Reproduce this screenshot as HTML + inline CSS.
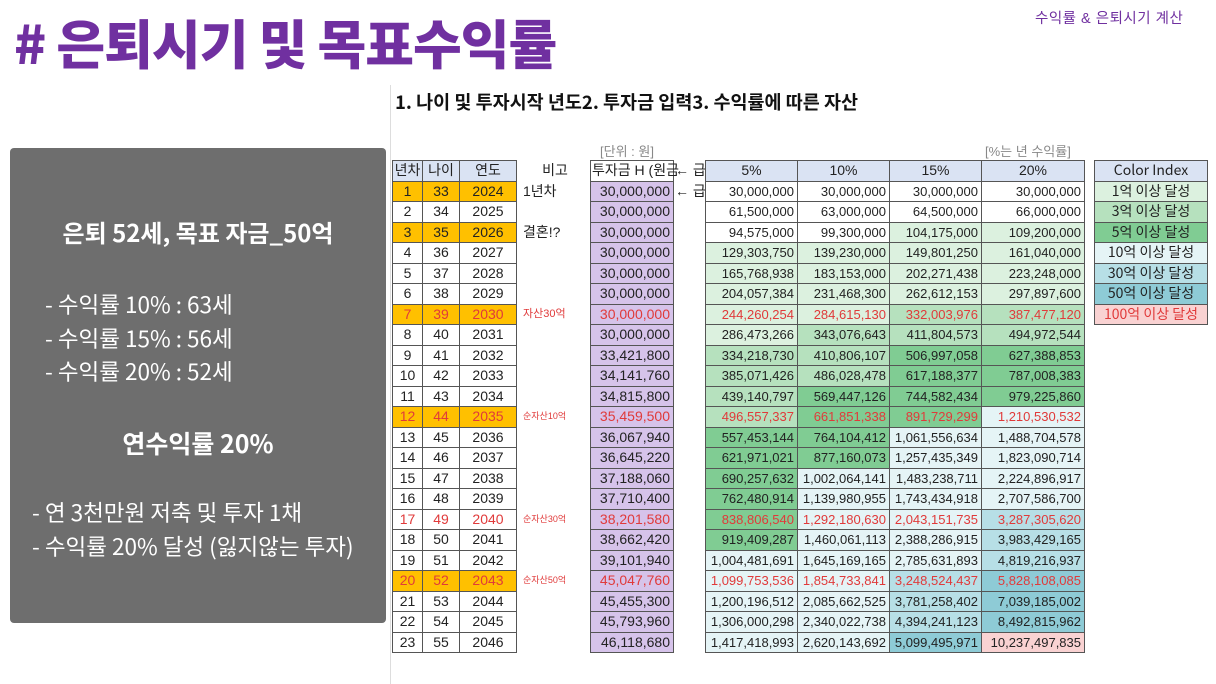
<!DOCTYPE html>
<html><head><meta charset="utf-8"><style>
body{margin:0;width:1216px;height:684px;background:#fff;position:relative;overflow:hidden;font-family:"Liberation Sans","Noto Sans CJK KR",sans-serif;}
.a{position:absolute;white-space:nowrap;}
#title{left:14px;top:9px;font-size:53px;font-weight:900;color:#7030a0;font-family:"Noto Sans CJK KR",sans-serif;letter-spacing:-1px;line-height:66px;}
#tr{left:1035px;top:7px;font-size:14.5px;color:#7030a0;letter-spacing:0.5px;}
#sub{left:395px;top:89px;font-size:18.5px;font-weight:bold;color:#111;font-family:"Noto Sans CJK KR",sans-serif;}
#vl{left:390px;top:85px;width:1px;height:599px;background:#ddd;}
#panel{left:10px;top:148px;width:376px;height:475px;background:#6e6e6e;border-radius:4px;color:#fff;font-family:"Noto Sans CJK KR",sans-serif;}
#panel div{position:absolute;white-space:nowrap;font-size:22.5px;}
.unit{font-size:13px;color:#888;top:141px;}
table{position:absolute;border-collapse:collapse;table-layout:fixed;font-size:13px;font-family:"Liberation Sans","Noto Sans CJK KR",sans-serif;}
td{border:1px solid #555;height:19.5px;padding:0 3px;line-height:19px;color:#222;overflow:hidden;white-space:nowrap;}
#t td:nth-child(1),#t td:nth-child(2),#t td:nth-child(3){text-align:center;padding:0;font-size:14px;}
#t td:nth-child(5),#t td:nth-child(n+7){text-align:right;}
td.nb{border-top:none;border-bottom:none;text-align:left!important;padding-left:6px;font-size:14px;}
tr.h td{background:#dae3f3;text-align:center!important;font-size:14px;}
tr.h td.nb{background:#fff;text-align:center!important;}
td.pu{background:#d6c3ea;font-size:14px;}
tr.y td:nth-child(-n+3){background:#ffc000;}
tr.r td{color:#e03a3a;}
.r td.nb{font-size:11px;}
.sm{font-size:9px!important;}
.g1{background:#dcf1df}.g2{background:#b6e1be}.g3{background:#80cc93}
.c1{background:#e5f4f6}.c2{background:#b7dfe6}.c3{background:#8ecbd6}.p{background:#f9d2d2}
#ci td{text-align:center;font-family:"Noto Sans CJK KR",sans-serif;font-size:14px;}
</style></head><body>
<div class="a" id="title"># 은퇴시기 및 목표수익률</div>
<div class="a" id="tr">수익률 &amp; 은퇴시기 계산</div>
<div class="a" id="vl"></div>
<div class="a" id="sub">1. 나이 및 투자시작 년도2. 투자금 입력3. 수익률에 따른 자산</div>
<div class="a" id="panel">
<div style="left:0;width:376px;text-align:center;top:66px;font-weight:bold;font-size:24px">은퇴 52세, 목표 자금_50억</div>
<div style="left:35px;top:140px">- 수익률 10% : 63세</div>
<div style="left:35px;top:174px">- 수익률 15% : 56세</div>
<div style="left:35px;top:207px">- 수익률 20% : 52세</div>
<div style="left:0;width:376px;text-align:center;top:277px;font-weight:bold;font-size:25px">연수익률 20%</div>
<div style="left:22px;top:348px">- 연 3천만원 저축 및 투자 1채</div>
<div style="left:22px;top:382px">- 수익률 20% 달성 (잃지않는 투자)</div>
</div>
<div class="a unit" style="left:600px">[단위 : 원]</div>
<div class="a unit" style="left:985px">[%는 년 수익률]</div>
<table id="t" style="left:392px;top:160px;width:692px">
<colgroup><col style="width:30px"><col style="width:37px"><col style="width:57px"><col style="width:74px"><col style="width:83px"><col style="width:32px"><col style="width:92px"><col style="width:92px"><col style="width:92px"><col style="width:103px"></colgroup>
<tr class="h"><td>년차</td><td>나이</td><td>연도</td><td class="nb">비고</td><td style="background:#fff;overflow:visible;text-align:right!important;padding:0 1px">투자금 H (원금</td><td class="nb" style="text-align:left!important;padding-left:1px">← 급</td><td>5%</td><td>10%</td><td>15%</td><td>20%</td></tr>
<tr class="y"><td>1</td><td>33</td><td>2024</td><td class="nb">1년차</td><td class="pu">30,000,000</td><td class="nb" style="padding-left:1px">← 급</td><td>30,000,000</td><td>30,000,000</td><td>30,000,000</td><td>30,000,000</td></tr>
<tr><td>2</td><td>34</td><td>2025</td><td class="nb"></td><td class="pu">30,000,000</td><td class="nb"></td><td>61,500,000</td><td>63,000,000</td><td>64,500,000</td><td>66,000,000</td></tr>
<tr class="y"><td>3</td><td>35</td><td>2026</td><td class="nb">결혼!?</td><td class="pu">30,000,000</td><td class="nb"></td><td>94,575,000</td><td>99,300,000</td><td class="g1">104,175,000</td><td class="g1">109,200,000</td></tr>
<tr><td>4</td><td>36</td><td>2027</td><td class="nb"></td><td class="pu">30,000,000</td><td class="nb"></td><td class="g1">129,303,750</td><td class="g1">139,230,000</td><td class="g1">149,801,250</td><td class="g1">161,040,000</td></tr>
<tr><td>5</td><td>37</td><td>2028</td><td class="nb"></td><td class="pu">30,000,000</td><td class="nb"></td><td class="g1">165,768,938</td><td class="g1">183,153,000</td><td class="g1">202,271,438</td><td class="g1">223,248,000</td></tr>
<tr><td>6</td><td>38</td><td>2029</td><td class="nb"></td><td class="pu">30,000,000</td><td class="nb"></td><td class="g1">204,057,384</td><td class="g1">231,468,300</td><td class="g1">262,612,153</td><td class="g1">297,897,600</td></tr>
<tr class="y r"><td>7</td><td>39</td><td>2030</td><td class="nb">자산30억</td><td class="pu">30,000,000</td><td class="nb"></td><td class="g1">244,260,254</td><td class="g1">284,615,130</td><td class="g2">332,003,976</td><td class="g2">387,477,120</td></tr>
<tr><td>8</td><td>40</td><td>2031</td><td class="nb"></td><td class="pu">30,000,000</td><td class="nb"></td><td class="g1">286,473,266</td><td class="g2">343,076,643</td><td class="g2">411,804,573</td><td class="g2">494,972,544</td></tr>
<tr><td>9</td><td>41</td><td>2032</td><td class="nb"></td><td class="pu">33,421,800</td><td class="nb"></td><td class="g2">334,218,730</td><td class="g2">410,806,107</td><td class="g3">506,997,058</td><td class="g3">627,388,853</td></tr>
<tr><td>10</td><td>42</td><td>2033</td><td class="nb"></td><td class="pu">34,141,760</td><td class="nb"></td><td class="g2">385,071,426</td><td class="g2">486,028,478</td><td class="g3">617,188,377</td><td class="g3">787,008,383</td></tr>
<tr><td>11</td><td>43</td><td>2034</td><td class="nb"></td><td class="pu">34,815,800</td><td class="nb"></td><td class="g2">439,140,797</td><td class="g3">569,447,126</td><td class="g3">744,582,434</td><td class="g3">979,225,860</td></tr>
<tr class="y r"><td>12</td><td>44</td><td>2035</td><td class="nb sm">순자산10억</td><td class="pu">35,459,500</td><td class="nb"></td><td class="g2">496,557,337</td><td class="g3">661,851,338</td><td class="g3">891,729,299</td><td class="c1">1,210,530,532</td></tr>
<tr><td>13</td><td>45</td><td>2036</td><td class="nb"></td><td class="pu">36,067,940</td><td class="nb"></td><td class="g3">557,453,144</td><td class="g3">764,104,412</td><td class="c1">1,061,556,634</td><td class="c1">1,488,704,578</td></tr>
<tr><td>14</td><td>46</td><td>2037</td><td class="nb"></td><td class="pu">36,645,220</td><td class="nb"></td><td class="g3">621,971,021</td><td class="g3">877,160,073</td><td class="c1">1,257,435,349</td><td class="c1">1,823,090,714</td></tr>
<tr><td>15</td><td>47</td><td>2038</td><td class="nb"></td><td class="pu">37,188,060</td><td class="nb"></td><td class="g3">690,257,632</td><td class="c1">1,002,064,141</td><td class="c1">1,483,238,711</td><td class="c1">2,224,896,917</td></tr>
<tr><td>16</td><td>48</td><td>2039</td><td class="nb"></td><td class="pu">37,710,400</td><td class="nb"></td><td class="g3">762,480,914</td><td class="c1">1,139,980,955</td><td class="c1">1,743,434,918</td><td class="c1">2,707,586,700</td></tr>
<tr class="r"><td>17</td><td>49</td><td>2040</td><td class="nb sm">순자산30억</td><td class="pu">38,201,580</td><td class="nb"></td><td class="g3">838,806,540</td><td class="c1">1,292,180,630</td><td class="c1">2,043,151,735</td><td class="c2">3,287,305,620</td></tr>
<tr><td>18</td><td>50</td><td>2041</td><td class="nb"></td><td class="pu">38,662,420</td><td class="nb"></td><td class="g3">919,409,287</td><td class="c1">1,460,061,113</td><td class="c1">2,388,286,915</td><td class="c2">3,983,429,165</td></tr>
<tr><td>19</td><td>51</td><td>2042</td><td class="nb"></td><td class="pu">39,101,940</td><td class="nb"></td><td class="c1">1,004,481,691</td><td class="c1">1,645,169,165</td><td class="c1">2,785,631,893</td><td class="c2">4,819,216,937</td></tr>
<tr class="y r"><td>20</td><td>52</td><td>2043</td><td class="nb sm">순자산50억</td><td class="pu">45,047,760</td><td class="nb"></td><td class="c1">1,099,753,536</td><td class="c1">1,854,733,841</td><td class="c2">3,248,524,437</td><td class="c3">5,828,108,085</td></tr>
<tr><td>21</td><td>53</td><td>2044</td><td class="nb"></td><td class="pu">45,455,300</td><td class="nb"></td><td class="c1">1,200,196,512</td><td class="c1">2,085,662,525</td><td class="c2">3,781,258,402</td><td class="c3">7,039,185,002</td></tr>
<tr><td>22</td><td>54</td><td>2045</td><td class="nb"></td><td class="pu">45,793,960</td><td class="nb"></td><td class="c1">1,306,000,298</td><td class="c1">2,340,022,738</td><td class="c2">4,394,241,123</td><td class="c3">8,492,815,962</td></tr>
<tr><td>23</td><td>55</td><td>2046</td><td class="nb"></td><td class="pu">46,118,680</td><td class="nb"></td><td class="c1">1,417,418,993</td><td class="c1">2,620,143,692</td><td class="c3">5,099,495,971</td><td class="p">10,237,497,835</td></tr>
</table>
<table id="ci" style="left:1094px;top:160px;width:114px">
<tr><td style="background:#dae3f3">Color Index</td></tr>
<tr><td class="g1">1억 이상 달성</td></tr>
<tr><td class="g2">3억 이상 달성</td></tr>
<tr><td class="g3">5억 이상 달성</td></tr>
<tr><td class="c1">10억 이상 달성</td></tr>
<tr><td class="c2">30억 이상 달성</td></tr>
<tr><td class="c3">50억 이상 달성</td></tr>
<tr><td class="p" style="color:#e03a3a">100억 이상 달성</td></tr>
</table>
</body></html>
